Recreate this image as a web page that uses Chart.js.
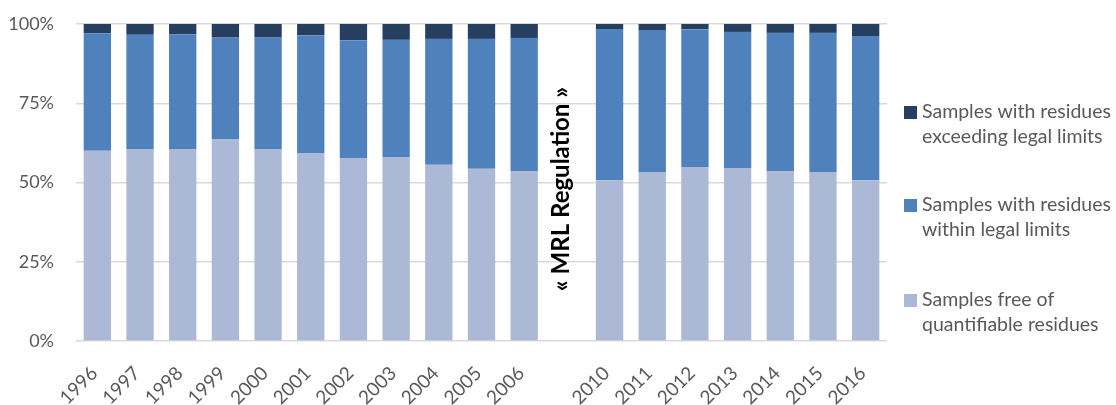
<!DOCTYPE html>
<html>
<head>
<meta charset="utf-8">
<script src="https://cdn.jsdelivr.net/npm/chart.js@4"></script>
<style>
  html, body { margin: 0; padding: 0; background: #fff; }
  #wrap { width: 1116px; height: 405px; }
</style>
</head>
<body>
<div id="wrap"><canvas id="residuesChart"></canvas></div>
<script>
var years = ['1996', '1997', '1998', '1999', '2000', '2001', '2002', '2003', '2004', '2005', '2006',
  '', '2010', '2011', '2012', '2013', '2014', '2015', '2016'];

var freeOf = [60.0, 60.6, 60.6, 63.7, 60.6, 59.3, 57.7, 57.9, 55.6, 54.3, 53.6,
  null, 50.7, 53.3, 54.9, 54.6, 53.6, 53.3, 50.7];
var withinLimits = [37.1, 36.0, 36.1, 32.0, 35.1, 37.1, 37.2, 37.1, 39.7, 41.0, 42.0,
  null, 47.7, 44.8, 43.4, 42.9, 43.6, 43.9, 45.5];
var exceeding = [2.9, 3.4, 3.3, 4.3, 4.3, 3.6, 5.1, 5.0, 4.7, 4.7, 4.4,
  null, 1.6, 1.9, 1.7, 2.5, 2.8, 2.8, 3.8];

var yTicks = [0, 25, 50, 75, 100];

var legendLines = [
  { color: '#263f61', lines: ['Samples with residues', 'exceeding legal limits'] },
  { color: '#4f81bd', lines: ['Samples with residues', 'within legal limits'] },
  { color: '#abb9d6', lines: ['Samples free of', 'quantifiable residues'] }
];

var FONT = 'Lato, "Open Sans", sans-serif';

// legend on the right + the rotated MRL note in the gap
var extras = {
  id: 'extras',
  afterDraw: function(chart) {
    var ctx = chart.ctx;
    var x = chart.scales.x;
    ctx.save();
    // MRL note
    ctx.translate(x.getPixelForValue(11) - 6, 189);
    ctx.rotate(-Math.PI / 2);
    ctx.fillStyle = '#000';
    ctx.font = 'bold 24px ' + FONT;
    ctx.textAlign = 'center';
    ctx.textBaseline = 'middle';
    ctx.fillText('\u00ab MRL Regulation \u00bb', 0, 0);
    ctx.restore();

    ctx.save();
    ctx.font = '19.5px ' + FONT;
    ctx.textBaseline = 'middle';
    ctx.textAlign = 'left';
    var tops = [112, 205, 300];
    legendLines.forEach(function(item, i) {
      ctx.fillStyle = item.color;
      ctx.fillRect(904, tops[i] - 6, 13, 13);
      ctx.fillStyle = '#595959';
      item.lines.forEach(function(line, j) {
        ctx.fillText(line, 922, tops[i] + j * 25);
      });
    });
    ctx.restore();
  }
};

var ctx = document.getElementById('residuesChart').getContext('2d');
var chart = new Chart(ctx, {
  type: 'bar',
  data: {
    labels: years,
    datasets: [
      { label: 'Samples free of quantifiable residues', data: freeOf, backgroundColor: '#abb9d6' },
      { label: 'Samples with residues within legal limits', data: withinLimits, backgroundColor: '#4f81bd' },
      { label: 'Samples with residues exceeding legal limits', data: exceeding, backgroundColor: '#263f61' }
    ]
  },
  options: {
    responsive: true,
    maintainAspectRatio: false,
    animation: false,
    layout: { padding: { top: 24, right: 229, left: 0, bottom: 0 } },
    datasets: { bar: { barPercentage: 0.64, categoryPercentage: 1 } },
    plugins: {
      legend: { display: false },
      tooltip: { enabled: false }
    },
    scales: {
      x: {
        stacked: true,
        grid: { display: false },
        border: { display: false },
        ticks: {
          color: '#595959',
          font: { family: FONT, size: 19 },
          maxRotation: 45,
          minRotation: 45,
          padding: 13,
          labelOffset: -3,
          autoSkip: false
        },
        afterFit: function(s) {
          s.height = 64;
          s.paddingLeft = 0;
          s.paddingRight = 0;
        }
      },
      y: {
        stacked: true,
        min: 0,
        max: 100,
        afterBuildTicks: function(s) {
          s.ticks = yTicks.map(function(v) { return { value: v }; });
        },
        grid: { color: '#d9d9d9', lineWidth: 1.5, drawTicks: false },
        border: { display: false },
        ticks: {
          color: '#595959',
          font: { family: FONT, size: 18 },
          padding: 22,
          callback: function(v) { return v + '%'; }
        },
        afterFit: function(s) {
          s.width = 76;
          s.paddingTop = 0;
          s.paddingBottom = 0;
        }
      }
    }
  },
  plugins: [extras]
});
</script>
</body>
</html>
